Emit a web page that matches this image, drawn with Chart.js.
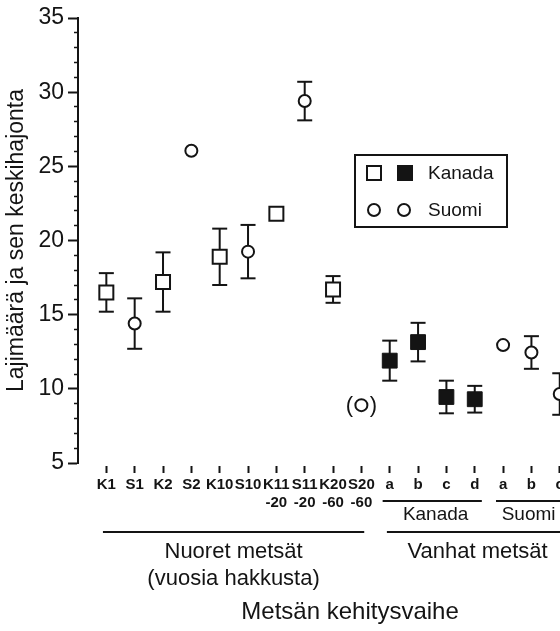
<!DOCTYPE html>
<html lang="fi">
<head>
<meta charset="utf-8">
<title>Lajimäärä metsän kehitysvaiheen mukaan</title>
<script src="https://cdn.jsdelivr.net/npm/chart.js@4.4.1/dist/chart.umd.min.js"></script>
<style>
  html, body { margin: 0; padding: 0; background: #fff; overflow: hidden; }
  #wrap { width: 560px; height: 631px; overflow: hidden; }
</style>
</head>
<body>
<div id="wrap"><canvas id="chart" width="600" height="631"></canvas></div>
<script>
const categories = ["K1", "S1", "K2", "S2", "K10", "S10", ["K11", "-20"], ["S11", "-20"],
  ["K20", "-60"], ["S20", "-60"], "a", "b", "c", "d", "a", "b", "c"];

// nuoret metsät, Kanada (avoin neliö)
const kanadaNuoretAt = [1, 3, 5, 7, 9];
const kanadaNuoretMean = [16.5, 17.2, 18.9, 21.8, 16.7];
const kanadaNuoretSd = [1.3, 2.0, 1.9, null, 0.9];

// nuoret metsät, Suomi (avoin ympyrä)
const suomiNuoretAt = [2, 4, 6, 8, 10];
const suomiNuoretMean = [14.4, 26.05, 19.25, 29.4, 8.9];
const suomiNuoretSd = [1.7, null, 1.8, 1.3, null];

// vanhat metsät, Kanada (musta neliö)
const kanadaVanhatAt = [11, 12, 13, 14];
const kanadaVanhatMean = [11.9, 13.15, 9.45, 9.3];
const kanadaVanhatSd = [1.35, 1.3, 1.1, 0.9];

// vanhat metsät, Suomi (avoin ympyrä)
const suomiVanhatAt = [15, 16, 17];
const suomiVanhatMean = [12.95, 12.45, 9.65];
const suomiVanhatSd = [null, 1.1, 1.4];

const yTickLabels = [5, 10, 15, 20, 25, 30, 35];
const bracketed = [10]; // S20-60 näkyy suluissa

const ink = "#141414";
const fontFamily = "'Liberation Sans', Arial, Helvetica, sans-serif";
Chart.defaults.font.family = fontFamily;
Chart.defaults.color = ink;

function points(at, mean) {
  return at.map((p, i) => ({ x: p, y: mean[i] }));
}

// each error bar is two points followed by a gap
function errorBars(at, mean, sd) {
  const out = [];
  at.forEach((p, i) => {
    if (sd[i] == null) return;
    out.push({ x: p, y: mean[i] - sd[i] }, { x: p, y: mean[i] + sd[i] }, { x: p, y: null });
  });
  return out;
}

const allBars = [].concat(
  errorBars(kanadaNuoretAt, kanadaNuoretMean, kanadaNuoretSd),
  errorBars(suomiNuoretAt, suomiNuoretMean, suomiNuoretSd),
  errorBars(kanadaVanhatAt, kanadaVanhatMean, kanadaVanhatSd),
  errorBars(suomiVanhatAt, suomiVanhatMean, suomiVanhatSd)
);

// brackets under the tick labels (positions in x units)
const groups = [
  { text: ["Kanada"], from: 10.75, to: 14.25, row: 0, at: 12.62, size: 19 },
  { text: ["Suomi"], from: 14.75, to: 17.6, row: 0, at: 15.9, size: 19 },
  { text: ["Nuoret metsät", "(vuosia hakkusta)"], from: 0.88, to: 10.1, row: 1, size: 22 },
  { text: ["Vanhat metsät"], from: 10.9, to: 17.6, row: 1, at: 14.1, size: 22 }
];

const annotations = {
  id: "annotations",
  afterDatasetsDraw(chart) {
    const { ctx, scales: { x } } = chart;
    const base = chart.chartArea.bottom;
    ctx.save();
    ctx.strokeStyle = ink;
    ctx.fillStyle = ink;
    ctx.textAlign = "center";
    ctx.textBaseline = "middle";

    // parentheses round the S20-60 point
    const meta = chart.getDatasetMeta(1);
    bracketed.forEach(cat => {
      const el = meta.data[suomiNuoretAt.indexOf(cat)];
      ctx.font = "22px " + fontFamily;
      ctx.fillText("(", el.x - 12, el.y + 1);
      ctx.fillText(")", el.x + 12, el.y + 1);
    });

    // group lines and labels
    ctx.lineWidth = 2;
    groups.forEach(g => {
      const lineY = base + (g.row === 0 ? 38 : 69);
      const x1 = x.getPixelForValue(g.from);
      const x2 = x.getPixelForValue(g.to);
      ctx.beginPath();
      ctx.moveTo(x1, lineY);
      ctx.lineTo(x2, lineY);
      ctx.stroke();
      const cx = g.at != null ? x.getPixelForValue(g.at) : (x1 + x2) / 2;
      ctx.font = g.size + "px " + fontFamily;
      g.text.forEach((t, i) => ctx.fillText(t, cx, lineY + (g.row === 0 ? 14 : 20) + i * 27));
    });

    ctx.font = "24px " + fontFamily;
    ctx.fillText("Metsän kehitysvaihe", x.getPixelForValue(9.6), base + 149);

    // legend box
    const lx = 355, ly = 155, lw = 152, lh = 72;
    ctx.lineWidth = 2;
    ctx.strokeRect(lx, ly, lw, lh);
    const r1 = ly + 18, r2 = ly + 55;
    ctx.fillStyle = "#fff";
    ctx.fillRect(lx + 12, r1 - 7, 14, 14);
    ctx.strokeRect(lx + 12, r1 - 7, 14, 14);
    ctx.fillStyle = ink;
    ctx.fillRect(lx + 42, r1 - 8, 16, 16);
    [lx + 19, lx + 49].forEach(cx => {
      ctx.beginPath();
      ctx.arc(cx, r2, 6, 0, Math.PI * 2);
      ctx.stroke();
    });
    ctx.textAlign = "left";
    ctx.font = "19px " + fontFamily;
    ctx.fillText("Kanada", lx + 73, r1 + 1);
    ctx.fillText("Suomi", lx + 73, r2 + 1);
    ctx.restore();
  }
};

new Chart(document.getElementById("chart"), {
  type: "scatter",
  data: {
    datasets: [
      {
        label: "Kanada, nuoret",
        data: points(kanadaNuoretAt, kanadaNuoretMean),
        pointStyle: "rect",
        pointRadius: 9.9,
        pointBorderWidth: 2,
        pointBorderColor: ink,
        pointBackgroundColor: "#fff"
      },
      {
        label: "Suomi, nuoret",
        data: points(suomiNuoretAt, suomiNuoretMean),
        pointStyle: "circle",
        pointRadius: 6,
        pointBorderWidth: 2,
        pointBorderColor: ink,
        pointBackgroundColor: "#fff"
      },
      {
        label: "Kanada, vanhat",
        data: points(kanadaVanhatAt, kanadaVanhatMean),
        pointStyle: "rect",
        pointRadius: 10.5,
        pointBorderWidth: 1,
        pointBorderColor: ink,
        pointBackgroundColor: ink
      },
      {
        label: "Suomi, vanhat",
        data: points(suomiVanhatAt, suomiVanhatMean),
        pointStyle: "circle",
        pointRadius: 6,
        pointBorderWidth: 2,
        pointBorderColor: ink,
        pointBackgroundColor: "#fff"
      },
      {
        label: "keskihajonta",
        data: allBars,
        showLine: true,
        spanGaps: false,
        borderColor: ink,
        borderWidth: 2,
        pointStyle: "line",
        pointRadius: 7.5,
        pointBorderWidth: 2,
        pointBorderColor: ink,
        order: 5
      }
    ]
  },
  options: {
    responsive: false,
    animation: false,
    events: [],
    layout: { padding: { top: 18, right: 11, left: 0, bottom: 0 } },
    plugins: {
      legend: { display: false },
      tooltip: { enabled: false }
    },
    scales: {
      x: {
        type: "linear",
        min: 0,
        max: 18,
        afterBuildTicks(scale) {
          scale.ticks = categories.map((c, i) => ({ value: i + 1 }));
        },
        afterFit(scale) { scale.height = 168; },
        border: { display: false },
        grid: {
          drawOnChartArea: false,
          tickLength: 10,
          tickWidth: 2,
          tickColor: ink,
          tickBorderDash: [0, 3, 7, 100]
        },
        ticks: {
          autoSkip: false,
          maxRotation: 0,
          minRotation: 0,
          padding: 3,
          color: ink,
          font: { size: 15, weight: "bold", lineHeight: 1.2 },
          callback: (v) => categories[v - 1]
        }
      },
      y: {
        min: 5,
        max: 35,
        afterFit(scale) { scale.width = 78; },
        border: { color: ink, width: 2 },
        grid: {
          drawOnChartArea: false,
          tickLength: 10,
          tickColor: ink,
          tickWidth: (c) => (yTickLabels.includes(c.tick.value) ? 2 : 1.5),
          tickBorderDash: (c) => (yTickLabels.includes(c.tick.value) ? [] : [0, 6, 5, 100])
        },
        ticks: {
          stepSize: 1,
          autoSkip: false,
          padding: 4,
          color: ink,
          font: { size: 23 },
          callback: (v) => (yTickLabels.includes(v) ? v : "")
        },
        title: {
          display: true,
          text: "Lajimäärä ja sen keskihajonta",
          color: ink,
          font: { size: 23 },
          padding: { top: 3, bottom: 0 }
        }
      }
    }
  },
  plugins: [annotations]
});
</script>
</body>
</html>
